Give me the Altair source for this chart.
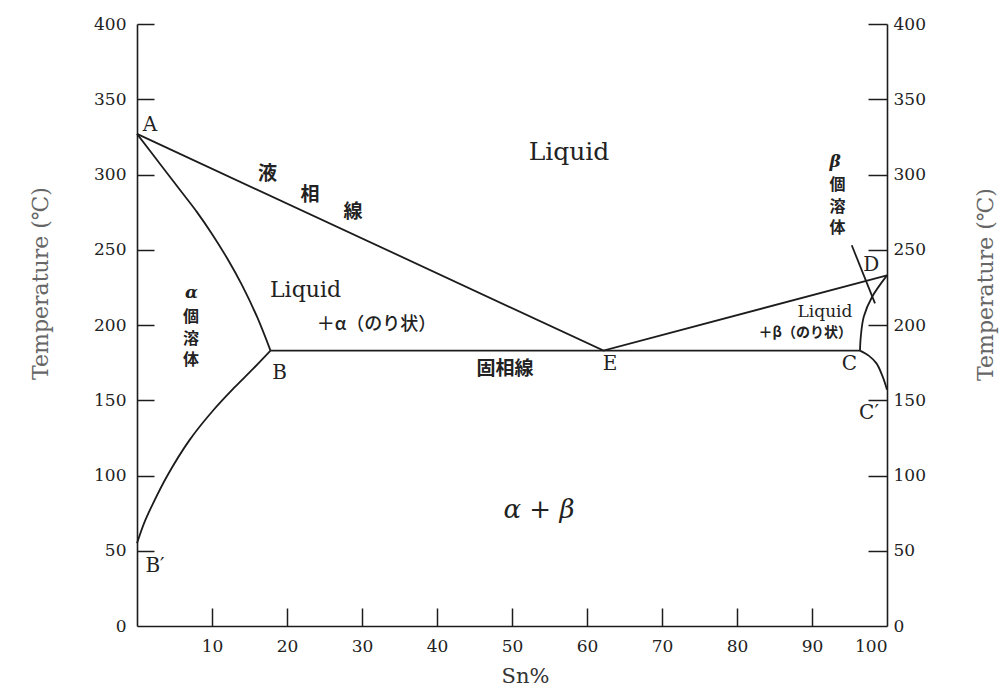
import altair as alt
import pandas as pd

# ---------------- data ----------------
# straight boundaries
liquidus_sn = [0, 62.2, 100]
liquidus_t = [327, 183, 233]
eutectic_sn = [17.8, 96.4]
eutectic_t = [183, 183]
leader_sn = [95.3, 98.4]
leader_t = [253, 214.4]

# curved boundaries
solidus_a_sn = [0, 3, 6, 8, 10, 12, 14, 16, 17.8]
solidus_a_t = [327, 307.5, 288, 275, 260.5, 244.5, 226.5, 205.5, 183]
solvus_a_sn = [17.8, 15.5, 13, 10.2, 7, 4, 2, 1, 0]
solvus_a_t = [183, 171, 158.5, 143.5, 123.5, 99.5, 80, 69, 55]
solidus_b_sn = [100, 98, 96.9, 96.5, 96.4]
solidus_b_t = [233, 218.6, 205.5, 192, 183]
solvus_b_sn = [96.4, 97.6, 98.6, 99.4, 100]
solvus_b_t = [183, 179.5, 174.5, 166, 157]

# axes
x_label_values = [10, 20, 30, 40, 50, 60, 70, 80, 90, 100]
x_tick_values = [10, 20, 30, 40, 50, 60, 70, 80, 90]
y_label_values = [0, 50, 100, 150, 200, 250, 300, 350, 400]
y_tick_values = [50, 100, 150, 200, 250, 300, 350, 400]

# annotations
point_labels = ["A", "B", "B′", "C", "C′", "D", "E"]
point_sn = [1.73, 19.0, 2.4, 95.0, 97.6, 97.9, 63.07]
point_t = [332.6, 167.8, 39.9, 173.8, 141.2, 239.9, 173.8]

liquid_big = ["Liquid"]
liquid_big_sn = [57.6]
liquid_big_t = [309.6]

liquid_a = ["Liquid"]
liquid_a_sn = [22.47]
liquid_a_t = [218.6]

liquid_b = ["Liquid"]
liquid_b_sn = [91.73]
liquid_b_t = [205.3]

paste_a = ["＋α（のり状）"]
paste_a_sn = [31.93]
paste_a_t = [200.3]

paste_b = ["＋β（のり状）"]
paste_b_sn = [95.33]
paste_b_t = [194.7]

line_kanji = ["液", "相", "線", "固相線"]
line_kanji_sn = [17.4, 23.07, 28.8, 49.07]
line_kanji_t = [300.3, 286.4, 274.8, 171.0]

# vertical labels "個溶体" (one column each, written top to bottom;
# position = first character)
solid_kanji = ["個\n溶\n体", "個\n溶\n体"]
solid_kanji_sn = [7.2, 93.4]
solid_kanji_t = [205.3, 293.0]

greek_labels = ["α", "β"]
greek_sn = [7.27, 93.07]
greek_t = [221.0, 308.0]

phase_ab = ["α + β"]
phase_ab_sn = [53.6]
phase_ab_t = [77.1]

# ---------------- build tables ----------------
def lines(series):
    rows = []
    for name, xs, ts in series:
        for i, (x, t) in enumerate(zip(xs, ts)):
            rows.append({"seg": name, "ord": i, "sn": x, "temp": t})
    return pd.DataFrame(rows)


def labels(texts, xs, ts):
    return pd.DataFrame({"label": texts, "sn": xs, "temp": ts})


straight_df = lines([
    ("liquidus", liquidus_sn, liquidus_t),
    ("eutectic", eutectic_sn, eutectic_t),
    ("leader", leader_sn, leader_t),
])
curve_df = lines([
    ("solidus_a", solidus_a_sn, solidus_a_t),
    ("solvus_a", solvus_a_sn, solvus_a_t),
    ("solidus_b", solidus_b_sn, solidus_b_t),
    ("solvus_b", solvus_b_sn, solvus_b_t),
])

W, H = 750, 602
INK = "#1c1c1c"
TXT = "#222222"
SERIF = "DejaVu Serif"
JP = "Noto Sans CJK JP"

xscale = alt.Scale(domain=[0, 100], nice=False, zero=False)
yscale = alt.Scale(domain=[0, 400], nice=False, zero=False)

axis_bottom = alt.Axis(
    orient="bottom", values=x_label_values, ticks=False, domain=True,
    domainColor=INK, domainWidth=1.6, grid=False,
    labelFont=SERIF, labelFontSize=17, labelColor=TXT, labelPadding=12,
    title="Sn%", titleFont=SERIF, titleFontSize=21, titleFontWeight="normal",
    titleColor="#333333", titleX=388, titleY=50, titleBaseline="middle",
)
axis_left = alt.Axis(
    orient="left", values=y_label_values, ticks=False, domain=True,
    domainColor=INK, domainWidth=1.6, grid=False,
    labelFont=SERIF, labelFontSize=17, labelColor=TXT, labelPadding=11,
    title="Temperature (℃)", titleFont=SERIF, titleFontSize=22,
    titleFontWeight="normal", titleColor="#666666", titleX=-97, titleY=259,
    titleAngle=270, titleBaseline="middle",
)
axis_right = alt.Axis(
    orient="right", values=y_label_values, ticks=False, domain=True,
    domainColor=INK, domainWidth=1.6, grid=False,
    labelFont=SERIF, labelFontSize=17, labelColor=TXT, labelPadding=6,
    title="Temperature (℃)", titleFont=SERIF, titleFontSize=22,
    titleFontWeight="normal", titleColor="#666666", titleX=98, titleY=260,
    titleAngle=270, titleBaseline="middle",
)
# inward ticks (axes pushed across the plot with a negative offset)
axis_bottom_ticks = alt.Axis(
    orient="top", offset=-H, values=x_tick_values, ticks=True, tickSize=18,
    tickWidth=1.5, tickColor=INK, labels=False, domain=False, grid=False, title=None,
)
axis_left_ticks = alt.Axis(
    orient="right", offset=-W, values=y_tick_values, ticks=True, tickSize=17,
    tickWidth=1.5, tickColor=INK, labels=False, domain=False, grid=False, title=None,
)
axis_right_ticks = alt.Axis(
    orient="left", offset=-W, values=y_tick_values, ticks=True, tickSize=19,
    tickWidth=1.5, tickColor=INK, labels=False, domain=False, grid=False, title=None,
)

straight = alt.Chart(straight_df).mark_line(
    color=INK, strokeWidth=1.8, interpolate="linear"
).encode(
    x=alt.X("sn:Q", scale=xscale, axis=axis_bottom),
    y=alt.Y("temp:Q", scale=yscale, axis=axis_left),
    detail="seg:N", order="ord:Q",
)

curves = alt.Chart(curve_df).mark_line(
    color=INK, strokeWidth=1.8, interpolate="catmull-rom"
).encode(
    x=alt.X("sn:Q", scale=xscale, axis=axis_bottom_ticks),
    y=alt.Y("temp:Q", scale=yscale, axis=axis_left_ticks),
    detail="seg:N", order="ord:Q",
)


def text_layer(df, xaxis=None, yaxis=None, **mark):
    return alt.Chart(df).mark_text(**mark).encode(
        x=alt.X("sn:Q", scale=xscale, axis=xaxis),
        y=alt.Y("temp:Q", scale=yscale, axis=yaxis),
        text="label:N",
    )


letters = text_layer(
    labels(point_labels, point_sn, point_t), None, axis_right_ticks,
    font=SERIF, fontSize=20, color=TXT, align="center", baseline="middle",
)
big_liquid = text_layer(
    labels(liquid_big, liquid_big_sn, liquid_big_t), None, axis_right,
    font=SERIF, fontSize=25, color=TXT, align="center", baseline="alphabetic",
)
liquid_alpha = text_layer(
    labels(liquid_a, liquid_a_sn, liquid_a_t),
    font=SERIF, fontSize=22, color=TXT, align="center", baseline="alphabetic",
)
liquid_beta = text_layer(
    labels(liquid_b, liquid_b_sn, liquid_b_t),
    font=SERIF, fontSize=17, color=TXT, align="center", baseline="alphabetic",
)
paste_alpha = text_layer(
    labels(paste_a, paste_a_sn, paste_a_t),
    font=JP, fontSize=18, fontWeight=500, color=TXT, align="center", baseline="middle",
)
paste_beta = text_layer(
    labels(paste_b, paste_b_sn, paste_b_t),
    font=JP, fontSize=14, fontWeight="bold", color=TXT, align="right", baseline="middle",
)
kanji_line = text_layer(
    labels(line_kanji, line_kanji_sn, line_kanji_t),
    font=JP, fontSize=19, fontWeight="bold", color=TXT, align="center", baseline="middle",
)
kanji_solid = text_layer(
    labels(solid_kanji, solid_kanji_sn, solid_kanji_t),
    font=JP, fontSize=16, fontWeight="bold", color=TXT, align="center", baseline="middle",
    lineBreak="\n", lineHeight=21.5,
)
greek = text_layer(
    labels(greek_labels, greek_sn, greek_t),
    font=SERIF, fontSize=17, fontStyle="italic", fontWeight="bold", color=TXT,
    align="center", baseline="middle",
)
alpha_beta = text_layer(
    labels(phase_ab, phase_ab_sn, phase_ab_t),
    font=SERIF, fontSize=26, fontStyle="italic", color=TXT,
    align="center", baseline="middle",
)

chart = alt.layer(
    straight, curves, letters, big_liquid, liquid_alpha, liquid_beta,
    paste_alpha, paste_beta, kanji_line, kanji_solid, greek, alpha_beta,
).resolve_axis(
    x="independent", y="independent"
).properties(
    width=W, height=H,
    autosize=alt.AutoSizeParams(type="none"),
    padding={"left": 129, "top": 16, "right": 113, "bottom": 61},
    background="white",
).configure_view(stroke=None)

chart.save("out.html", embed_options={"renderer": "svg", "actions": False})
